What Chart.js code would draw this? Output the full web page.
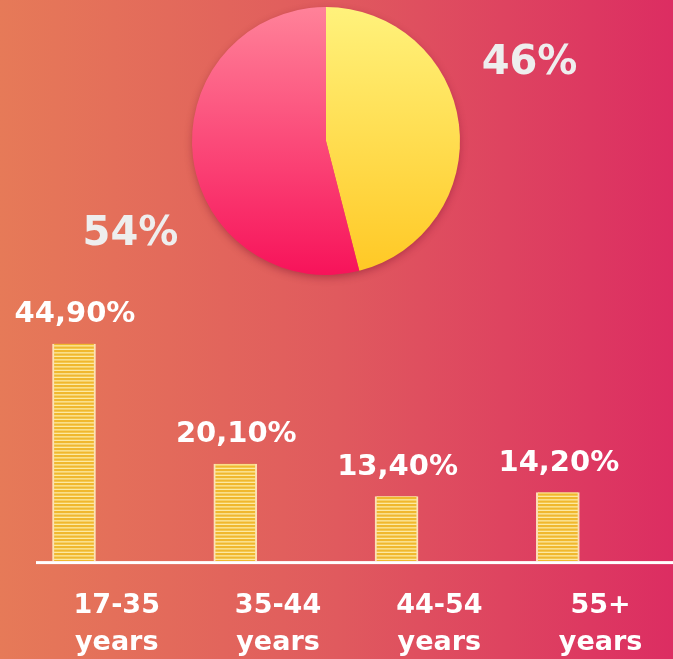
<!DOCTYPE html>
<html>
<head>
<meta charset="utf-8">
<script src="https://cdn.jsdelivr.net/npm/chart.js@4"></script>
<style>
  html, body { margin: 0; padding: 0; }
  body {
    width: 673px; height: 659px; overflow: hidden; position: relative;
    background: linear-gradient(to right, #e67a58 0%, #e05a5e 50%, #dc2d62 100%);
  }
  canvas { position: absolute; left: 0; top: 0; }
</style>
</head>
<body>
<canvas id="bars" width="673" height="659"></canvas>
<canvas id="pie" width="673" height="659"></canvas>
<script>
// age groups and their share (%)
const ageGroups = [["17-35", "years"], ["35-44", "years"], ["44-54", "years"], ["55+", "years"]];
const ageShares = [44.9, 20.1, 13.4, 14.2];

// pie split (%)
const pieShares = [46, 54];

const FONT = "'DejaVu Sans', sans-serif";

function stripePattern(ctx) {
  const c = document.createElement("canvas");
  c.width = 8;
  c.height = 7;
  const g = c.getContext("2d");
  g.fillStyle = "#fde9a2";
  g.fillRect(0, 0, 8, 7);
  g.fillStyle = "#f0b82e";
  g.fillRect(0, 0, 8, 2.2);
  g.fillRect(0, 3.5, 8, 2.2);
  return ctx.createPattern(c, "repeat");
}

const baseline = {
  id: "baseline",
  afterDatasetsDraw(chart) {
    const { ctx, chartArea } = chart;
    ctx.save();
    ctx.fillStyle = "#ffffff";
    ctx.fillRect(chartArea.left, chartArea.bottom, chartArea.right - chartArea.left, 3);
    ctx.restore();
  }
};

const barValueLabels = {
  id: "barValueLabels",
  afterDatasetsDraw(chart) {
    const { ctx } = chart;
    const meta = chart.getDatasetMeta(0);
    ctx.save();
    ctx.font = "bold 29px " + FONT;
    ctx.fillStyle = "#ffffff";
    ctx.textAlign = "center";
    ctx.textBaseline = "middle";
    meta.data.forEach((bar, i) => {
      const txt = ageShares[i].toFixed(2).replace(".", ",") + "%";
      ctx.fillText(txt, bar.x + 1, bar.y - 29);
    });
    ctx.restore();
  }
};

const barCanvas = document.getElementById("bars");

new Chart(barCanvas, {
  type: "bar",
  data: {
    datasets: [
      {
        data: ageShares.map((v, i) => ({ x: i, y: v })),
        backgroundColor: stripePattern(barCanvas.getContext("2d")),
        borderColor: "rgba(255, 240, 190, 0.9)",
        borderWidth: { left: 2, right: 2, top: 0, bottom: 0 },
        barThickness: 43
      }
    ]
  },
  options: {
    responsive: false,
    animation: false,
    events: [],
    layout: { padding: { left: 36, right: 0, top: 319, bottom: -29 } },
    scales: {
      x: {
        type: "linear",
        bounds: "data",
        offset: false,
        min: -0.2356,
        max: 3.714,
        grid: { display: false, drawTicks: false },
        border: { display: false },
        afterBuildTicks: (axis) => {
          axis.ticks = ageGroups.map((_, i) => ({ value: i + 0.265 }));
        },
        ticks: {
          color: "#ffffff",
          padding: 27,
          maxRotation: 0,
          autoSkip: false,
          font: { family: FONT, size: 27, weight: "bold", lineHeight: 1.35 },
          callback: (v, i) => ageGroups[i]
        }
      },
      y: { display: false, min: 0, max: 50 }
    },
    plugins: {
      legend: { display: false },
      tooltip: { enabled: false }
    }
  },
  plugins: [baseline, barValueLabels]
});

const pieShadow = {
  id: "pieShadow",
  beforeDatasetsDraw(chart) {
    const arc = chart.getDatasetMeta(0).data[0];
    if (!arc) return;
    const { ctx } = chart;
    ctx.save();
    ctx.shadowColor = "rgba(110, 10, 40, 0.45)";
    ctx.shadowBlur = 8;
    ctx.shadowOffsetY = 3;
    ctx.fillStyle = "#e05a5e";
    ctx.beginPath();
    ctx.arc(arc.x, arc.y, arc.outerRadius - 1, 0, Math.PI * 2);
    ctx.fill();
    ctx.restore();
  }
};

const pieValueLabels = {
  id: "pieValueLabels",
  afterDatasetsDraw(chart) {
    const { ctx } = chart;
    const meta = chart.getDatasetMeta(0);
    ctx.save();
    ctx.font = "bold 40px " + FONT;
    ctx.fillStyle = "#eeeeee";
    ctx.textAlign = "center";
    ctx.textBaseline = "middle";
    meta.data.forEach((arc, i) => {
      const a = (arc.startAngle + arc.endAngle) / 2 - (16 * Math.PI) / 180;
      const d = arc.outerRadius * 1.62;
      ctx.fillText(pieShares[i] + "%", arc.x + Math.cos(a) * d + 4, arc.y + Math.sin(a) * d + 8);
    });
    ctx.restore();
  }
};

function sliceFill(c) {
  const area = c.chart.chartArea;
  const stops = c.dataIndex === 0
    ? ["#fff27c", "#ffc824"]
    : ["#ff8299", "#f7135a"];
  if (!area) return stops[1];
  const g = c.chart.ctx.createLinearGradient(0, area.top, 0, area.bottom);
  g.addColorStop(0, stops[0]);
  g.addColorStop(1, stops[1]);
  return g;
}

new Chart(document.getElementById("pie"), {
  type: "pie",
  data: {
    labels: pieShares.map((v) => v + "%"),
    datasets: [
      {
        data: pieShares,
        backgroundColor: sliceFill,
        borderWidth: 0,
        hoverOffset: 0
      }
    ]
  },
  options: {
    responsive: false,
    animation: false,
    events: [],
    layout: { padding: { left: 192, top: 7, right: 213, bottom: 384 } },
    plugins: {
      legend: { display: false },
      tooltip: { enabled: false }
    }
  },
  plugins: [pieShadow, pieValueLabels]
});
</script>
</body>
</html>
